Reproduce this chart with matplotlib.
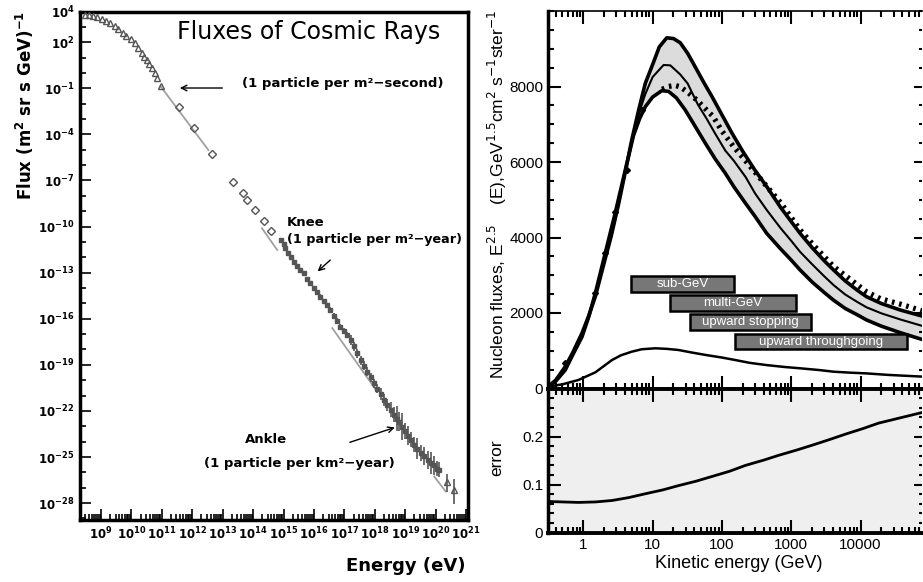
import numpy as np
import matplotlib.pyplot as plt
from matplotlib.ticker import FixedLocator, LogLocator, NullFormatter, MultipleLocator
from matplotlib.patches import Rectangle

W, H = 923, 582

# ---------------- left panel: cosmic ray flux (log10 values)
tri_logE = [8.47, 8.61, 8.75, 8.88, 9.02, 9.16, 9.30, 9.46, 9.57, 9.71, 9.82,
            9.98, 10.12, 10.23, 10.34, 10.42, 10.51, 10.59, 10.67, 10.78, 10.85, 10.97]
tri_logF = [3.77, 3.77, 3.70, 3.62, 3.49, 3.40, 3.23, 3.05, 2.84, 2.62, 2.40,
            2.19, 1.93, 1.60, 1.32, 1.06, 0.84, 0.58, 0.30, -0.02, -0.35, -0.85]

dia_logE = [11.57, 12.06, 12.65, 13.34, 13.65, 13.80, 14.05, 14.35, 14.59]
dia_logF = [-2.24, -3.56, -5.25, -7.08, -7.79, -8.27, -8.92, -9.61, -10.27]

dense_logE = [14.90, 15.00, 15.06, 15.15, 15.25, 15.33, 15.45, 15.55, 15.66, 15.77,
              15.88, 16.00, 16.10, 16.21, 16.32, 16.43, 16.54, 16.65, 16.76, 16.87,
              16.98, 17.09, 17.20, 17.31, 17.42, 17.53, 17.64, 17.75, 17.86, 17.97,
              18.08, 18.19, 18.30, 18.41, 18.52, 18.63, 18.72, 18.80, 18.90, 19.00,
              19.09, 19.18, 19.30, 19.40, 19.51, 19.62, 19.73, 19.84, 19.95, 20.05, 20.11]
dense_logF = [-10.87, -11.15, -11.42, -11.70, -12.00, -12.28, -12.55, -12.80, -13.04, -13.38,
              -13.69, -14.02, -14.28, -14.56, -14.85, -15.12, -15.43, -15.80, -16.15, -16.51,
              -16.80, -17.08, -17.38, -17.80, -18.24, -18.70, -19.05, -19.45, -19.80, -20.19,
              -20.55, -20.90, -21.28, -21.60, -21.92, -22.25, -22.50, -22.70, -23.02, -23.30,
              -23.60, -23.88, -24.20, -24.45, -24.75, -24.95, -25.20, -25.40, -25.55, -25.75, -25.83]
dense_err = [0.1, 0.1, 0.1, 0.1, 0.1, 0.1, 0.1, 0.1, 0.1, 0.1,
             0.1, 0.1, 0.15, 0.15, 0.15, 0.15, 0.2, 0.2, 0.2, 0.2,
             0.2, 0.2, 0.3, 0.3, 0.3, 0.3, 0.3, 0.3, 0.3, 0.3,
             0.3, 0.4, 0.4, 0.4, 0.5, 0.5, 0.8, 0.6, 0.9, 0.5,
             0.6, 0.5, 0.5, 0.7, 0.5, 0.6, 0.6, 0.7, 0.6, 0.5, 0.5]

end_logE = [20.38, 20.60]
end_logF = [-26.60, -27.14]
end_err_lo = [0.7, 0.9]
end_err_hi = [0.5, 0.7]

fit_segments = [([10.95, 12.53], [-0.85, -5.02]),
                ([14.29, 14.79], [-10.11, -11.52]),
                ([16.60, 18.03], [-16.61, -20.62]),
                ([19.95, 20.33], [-26.27, -27.25])]

left_ytick_exp = [4, 2, -1, -4, -7, -10, -13, -16, -19, -22, -25, -28]
left_xtick_exp = list(range(9, 22))

# ---------------- right panel: nucleon flux
upper_E = [0.31, 0.4, 0.55, 0.7, 0.96, 1.2, 1.49, 2.0, 2.5, 3.2, 4.0, 5.0, 6.3, 7.85,
           10, 12.5, 16, 20, 25, 32, 41, 55, 72, 100, 140, 200, 300, 442, 700, 1000,
           1340, 2000, 3000, 4070, 6000, 9000, 12200, 20000, 37200, 76800]
upper_v = [50, 220, 580, 940, 1470, 1930, 2430, 3330, 4000, 4850, 5700, 6580, 7380, 8085,
           8580, 9050, 9290, 9270, 9160, 8880, 8525, 8100, 7730, 7250, 6760, 6280, 5780,
           5350, 4800, 4420, 4110, 3730, 3380, 3140, 2850, 2600, 2430, 2250, 2080, 1920]
middle_E = [0.31, 0.4, 0.55, 0.7, 0.96, 1.2, 1.49, 2.07, 2.88, 4.04, 5.3, 6.5, 7.85, 10,
            14.4, 18, 25, 32, 45, 60, 80, 112, 146, 220, 300, 442, 700, 1000, 1340, 2000,
            3000, 4070, 6000, 9000, 12200, 20000, 37200, 76800]
middle_v = [50, 195, 535, 900, 1420, 1915, 2475, 3500, 4620, 5780, 6700, 7350, 7800, 8250,
            8570, 8560, 8320, 8080, 7520, 7150, 6750, 6300, 6050, 5600, 5170, 4730, 4250,
            3910, 3620, 3290, 2970, 2740, 2490, 2290, 2150, 1990, 1830, 1660]
lower_E = [0.31, 0.4, 0.55, 0.7, 0.96, 1.2, 1.49, 2.07, 2.88, 4.04, 5.3, 6.5, 7.85, 10,
           13.6, 17, 22, 29.5, 40, 57.5, 80, 112, 148, 220, 300, 442, 700, 1000, 1340,
           2000, 3000, 4070, 6000, 9000, 12200, 20000, 37200, 76800]
lower_v = [50, 190, 490, 880, 1370, 1900, 2520, 3580, 4640, 5790, 6700, 7150, 7465, 7720,
           7890, 7870, 7700, 7380, 6980, 6500, 6080, 5700, 5350, 4900, 4560, 4110, 3700,
           3400, 3140, 2820, 2540, 2340, 2120, 1950, 1815, 1650, 1480, 1300]
dotted_E = [13.7, 17, 21, 25.1, 32, 43.5, 57, 75, 100, 148, 234, 405, 710, 1340, 2090,
            4070, 6340, 12200, 19300, 40000, 76800]
dotted_v = [7925, 8000, 8030, 7990, 7850, 7640, 7420, 7200, 6820, 6400, 5970, 5440, 4910,
            4200, 3800, 3230, 2960, 2560, 2380, 2220, 2060]
bottom_E = [0.31, 0.5, 0.85, 1.5, 2.6, 3.5, 5.0, 7.0, 11, 16, 23.7, 35, 57.5, 100, 155,
            250, 442, 800, 1340, 2500, 4070, 7000, 12200, 25000, 76800]
bottom_v = [50, 110, 225, 430, 755, 880, 975, 1040, 1065, 1050, 1020, 960, 890, 820, 755,
            680, 620, 570, 535, 490, 445, 420, 400, 360, 315]
pts_E = [0.55, 1.49, 2.08, 2.9, 4.27, 7.0]
pts_v = [670, 2520, 3580, 4680, 5790, 7380]

boxes = [("sub-GeV", 4.88, 151, 2564, 2980),
         ("multi-GeV", 17.6, 1186, 2061, 2477),
         ("upward stopping", 34.2, 1931, 1550, 1966),
         ("upward throughgoing", 156, 46900, 1038, 1444)]

err_E = [0.31, 0.5, 0.85, 1.5, 2.6, 4.5, 7.85, 14, 23.7, 42, 72, 130, 218, 400, 658,
         1200, 2000, 3600, 6030, 11000, 18200, 35000, 76800]
err_v = [0.065, 0.064, 0.063, 0.064, 0.067, 0.073, 0.081, 0.089, 0.098, 0.107, 0.117,
         0.128, 0.140, 0.151, 0.161, 0.172, 0.182, 0.194, 0.205, 0.217, 0.228, 0.238, 0.250]

right_xticks = [1, 10, 100, 1000, 10000]

# ======================================================================
fig = plt.figure(figsize=(W / 100, H / 100), dpi=100)

def p(v):
    return 10.0 ** np.array(v)

ax = fig.add_axes([80 / W, 1 - 520 / H, 388 / W, 508.5 / H])
ax.set_xscale('log')
ax.set_yscale('log')

for xs, ys in fit_segments:
    ax.plot(p(xs), p(ys), color='#a0a0a0', lw=1.3, zorder=2)

ax.plot(p(tri_logE), p(tri_logF), ls='none', marker='^', ms=5, mfc='none',
        mec='#555555', mew=1.0, zorder=3)
ax.plot(p(dia_logE), p(dia_logF), ls='none', marker='D', ms=4, mfc='none',
        mec='#555555', mew=1.0, zorder=3)

F = p(dense_logF)
e = np.array(dense_err)
ax.errorbar(p(dense_logE), F, yerr=[F - F * 10 ** -e, F * 10 ** e - F], fmt='s',
            ms=3.5, color='#555555', ecolor='#555555', elinewidth=1.2, capsize=0, zorder=4)
F2 = p(end_logF)
ax.errorbar(p(end_logE), F2,
            yerr=[F2 - F2 * 10 ** -np.array(end_err_lo), F2 * 10 ** np.array(end_err_hi) - F2],
            fmt='^', ms=5, mfc='none', mec='#555555', ecolor='#555555', elinewidth=1.2,
            capsize=0, zorder=4)

ax.set_xlim(10 ** 8.31, 10 ** 21.06)
ax.set_ylim(10 ** -29.1, 10 ** 4)
ax.yaxis.set_major_locator(FixedLocator([10.0 ** k for k in left_ytick_exp]))
ax.yaxis.set_minor_locator(FixedLocator([10.0 ** k for k in range(-29, 5)]))
ax.yaxis.set_minor_formatter(NullFormatter())
ax.set_yticklabels([r'$\mathbf{10^{%d}}$' % k for k in left_ytick_exp], fontsize=8.5)
ax.xaxis.set_major_locator(FixedLocator([10.0 ** k for k in left_xtick_exp]))
ax.xaxis.set_minor_locator(LogLocator(base=10, subs=np.arange(2, 10), numticks=50))
ax.xaxis.set_minor_formatter(NullFormatter())
ax.set_xticklabels([r'$\mathbf{10^{%d}}$' % k for k in left_xtick_exp], fontsize=8.5)
ax.tick_params(which='both', direction='in', top=False, right=False, width=1.2)
ax.tick_params(which='major', length=8, pad=4)
ax.tick_params(which='minor', length=4)
for s in ax.spines.values():
    s.set_linewidth(2.5)

ax.text(p(15.83), p(2.66), 'Fluxes of Cosmic Rays', fontsize=17, ha='center', va='center')
ax.text(p(16.95), p(-0.66), '(1 particle per m²−second)', fontsize=9.5, fontweight='bold',
        ha='center', va='center')
ax.annotate('', xy=(p(11.50), p(-0.98)), xytext=(p(13.08), p(-0.98)),
            arrowprops=dict(arrowstyle='->', color='black', lw=1.0))
ax.text(p(15.11), p(-9.74), 'Knee', fontsize=9.5, fontweight='bold', ha='left', va='center')
ax.text(p(15.10), p(-10.82), '(1 particle per m²−year)', fontsize=9.2, fontweight='bold',
        ha='left', va='center')
ax.annotate('', xy=(p(16.05), p(-13.04)), xytext=(p(16.60), p(-12.06)),
            arrowprops=dict(arrowstyle='->', color='black', lw=1.0))
ax.text(p(14.43), p(-23.84), 'Ankle', fontsize=9.5, fontweight='bold', ha='center', va='center')
ax.text(p(15.52), p(-25.44), '(1 particle per km²−year)', fontsize=9.5, fontweight='bold',
        ha='center', va='center')
ax.annotate('', xy=(p(18.74), p(-23.02)), xytext=(p(17.09), p(-24.10)),
            arrowprops=dict(arrowstyle='->', color='black', lw=1.0))

fig.text(25 / W, 1 - 105 / H, r'Flux (m$^{\mathbf{2}}$ sr s GeV)$^{\mathbf{-1}}$', rotation=90,
         fontsize=12, fontweight='bold', ha='center', va='center')
fig.text(406 / W, 1 - 566 / H, 'Energy (eV)', fontsize=13, fontweight='bold',
         ha='center', va='center')

# ---------------- right panel
rf = 'Liberation Sans'
axU = fig.add_axes([548 / W, 1 - 388.5 / H, 374 / W, 377.5 / H])
axL = fig.add_axes([548 / W, 1 - 532.7 / H, 374 / W, 144.2 / H])

axU.fill(np.concatenate([upper_E, lower_E[::-1]]), np.concatenate([upper_v, lower_v[::-1]]),
         color='#dcdcdc', lw=0, zorder=1)
axU.plot(upper_E, upper_v, color='black', lw=2.6, zorder=3)
axU.plot(middle_E, middle_v, color='black', lw=1.5, zorder=3)
axU.plot(lower_E, lower_v, color='black', lw=2.6, zorder=3)
axU.plot(dotted_E, dotted_v, color='black', lw=3.8, ls=(0, (0.5, 0.9)), zorder=4)
axU.plot(bottom_E, bottom_v, color='black', lw=1.8, zorder=3)
axU.plot(pts_E, pts_v, ls='none', marker='D', ms=3, color='black', zorder=4)

for label, e0, e1, v0, v1 in boxes:
    axU.add_patch(Rectangle((e0, v0), e1 - e0, v1 - v0, facecolor='#777777',
                            edgecolor='black', lw=1.8, zorder=5))
    axU.text(np.sqrt(e0 * e1), (v0 + v1) / 2, label, color='white', fontsize=9.5, family=rf,
             ha='center', va='center', zorder=6)

axL.set_facecolor('#efefef')
axL.plot(err_E, err_v, color='black', lw=2.0)

for a in (axU, axL):
    a.set_xscale('log')
    a.set_xlim(0.31, 76800)
    a.xaxis.set_major_locator(FixedLocator(right_xticks))
    a.xaxis.set_minor_locator(LogLocator(base=10, subs=np.arange(2, 10), numticks=50))
    a.xaxis.set_minor_formatter(NullFormatter())
    a.tick_params(which='both', direction='in', top=True, bottom=True, left=True,
                  right=False, width=1.5)
    a.tick_params(which='major', length=9.5)
    a.tick_params(which='minor', length=4.5)
    for s in a.spines.values():
        s.set_linewidth(1.2)
    a.spines['left'].set_linewidth(2.5)
    a.spines['bottom'].set_linewidth(2.8)
    a.spines['right'].set_visible(False)

axU.set_ylim(0, 10000)
axU.yaxis.set_major_locator(FixedLocator([0, 2000, 4000, 6000, 8000]))
axU.yaxis.set_minor_locator(MultipleLocator(500))
axU.set_xticklabels([])
axU.set_yticklabels(['0', '2000', '4000', '6000', '8000'], family=rf, fontsize=11)

axL.set_ylim(0, 0.3)
axL.yaxis.set_major_locator(FixedLocator([0, 0.1, 0.2]))
axL.yaxis.set_minor_locator(MultipleLocator(0.02))
axL.set_yticklabels(['0', '0.1', '0.2'], family=rf, fontsize=11)
axL.set_xticklabels(['1', '10', '100', '1000', '10000'], family=rf, fontsize=11)
axL.spines['top'].set_linewidth(2.8)

# ticks along the right edge
for a, ymaj, ymin in ((axU, [0, 2000, 4000, 6000, 8000], 500), (axL, [0, 0.1, 0.2], 0.02)):
    t = a.twinx()
    t.set_ylim(a.get_ylim())
    t.yaxis.set_major_locator(FixedLocator(ymaj))
    t.yaxis.set_minor_locator(MultipleLocator(ymin))
    t.tick_params(which='both', direction='in', labelright=False, width=1.5)
    t.tick_params(which='major', length=6)
    t.tick_params(which='minor', length=2)
    for s in t.spines.values():
        s.set_visible(False)

fig.text(497 / W, 1 - 195 / H,
         r'Nucleon fluxes, E$^{2.5}$    (E),GeV$^{1.5}$cm$^{2}$ s$^{-1}$ster$^{-1}$',
         rotation=90, fontsize=12.5, family=rf, ha='center', va='center')
fig.text(497 / W, 1 - 458 / H, 'error', rotation=90, fontsize=12.5, family=rf,
         ha='center', va='center')
fig.text(739 / W, 1 - 564 / H, 'Kinetic energy (GeV)', fontsize=13, family=rf,
         ha='center', va='center')

fig.savefig('out.png', dpi=100)
